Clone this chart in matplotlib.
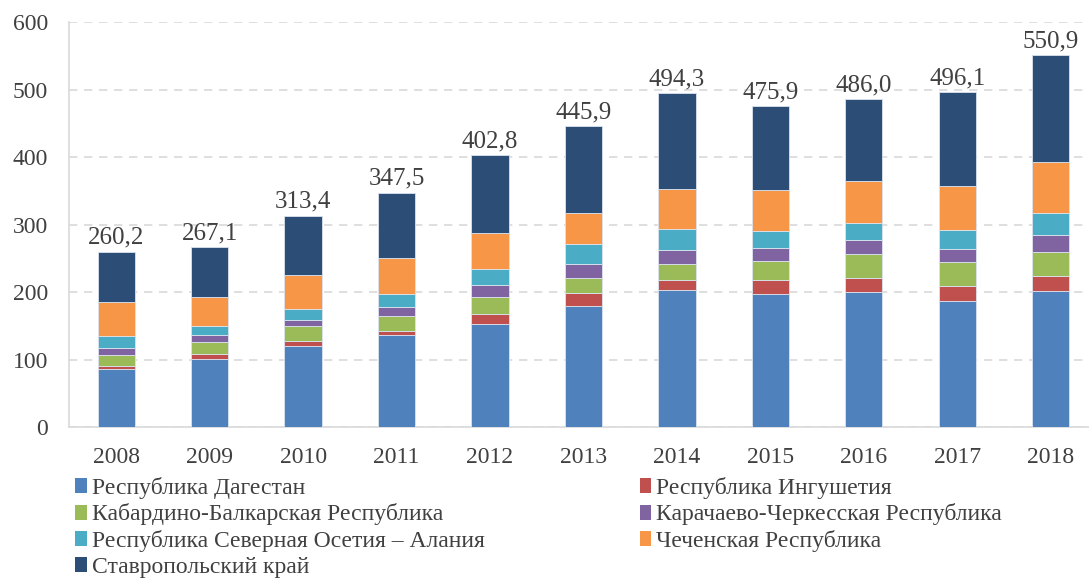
import matplotlib.pyplot as plt
from matplotlib.patches import Patch

plt.rcParams['font.family'] = ['Liberation Serif', 'DejaVu Serif']

# Data
years = ["2008", "2009", "2010", "2011", "2012", "2013", "2014", "2015", "2016", "2017", "2018"]
regions = ["Республика Дагестан", "Республика Ингушетия", "Кабардино-Балкарская Республика",
           "Карачаево-Черкесская Республика", "Республика Северная Осетия – Алания",
           "Чеченская Республика", "Ставропольский край"]
dagestan = [86.5, 101.8, 120.7, 137.0, 153.0, 179.3, 202.5, 197.6, 199.6, 187.2, 202.1]
ingush = [3.8, 6.4, 6.8, 5.9, 14.3, 19.2, 15.9, 20.5, 21.2, 21.6, 21.7]
kbr = [16.4, 18.4, 21.8, 21.3, 26.3, 21.9, 22.8, 28.6, 36.3, 35.3, 36.2]
kchr = [11.0, 10.0, 8.9, 13.8, 17.4, 21.2, 21.8, 18.7, 20.2, 20.4, 24.7]
osetia = [16.8, 14.0, 16.4, 19.9, 22.7, 29.3, 30.6, 25.2, 25.8, 27.6, 32.7]
chechnya = [50.9, 41.6, 50.5, 52.1, 54.6, 45.6, 58.6, 60.1, 61.4, 65.0, 75.8]
stavropol = [74.8, 74.9, 88.3, 97.5, 114.5, 129.4, 142.1, 125.2, 121.5, 139.0, 157.7]

series = [dagestan, ingush, kbr, kchr, osetia, chechnya, stavropol]
colors = ["#4F81BD", "#C0504D", "#9BBB59", "#8064A2", "#4BACC6", "#F79646", "#2C4D75"]

fig = plt.figure(figsize=(10.89, 5.8), dpi=100)
ax = fig.add_axes([0.0634, 0.2633, 0.9366, 0.6988])

x = range(len(years))
bottom = [0.0] * len(years)
for vals, col, name in zip(series, colors, regions):
    ax.bar(x, vals, width=0.4, bottom=bottom, color=col, edgecolor="#dbe3ee",
           linewidth=0.6, label=name, zorder=3)
    bottom = [b + v for b, v in zip(bottom, vals)]

# total labels
for i, tot in enumerate(bottom):
    ax.text(i, tot + 4, f"{tot:.1f}".replace(".", ","), ha="center", va="bottom",
            fontsize=18, color="#404040")

ax.set_xlim(-0.505, 10.41)
ax.set_ylim(0, 600)
ax.set_yticks(range(0, 601, 100))
ax.set_xticks(list(x))
ax.set_xticklabels(years)
ax.tick_params(axis="both", length=0, labelsize=17, colors="#404040")
ax.tick_params(axis="x", pad=14)
ax.tick_params(axis="y", pad=15)
ax.yaxis.grid(True, linestyle=(0, (5, 4)), color="#d9d9d9", linewidth=1.2, zorder=0)
for s in ["top", "right"]:
    ax.spines[s].set_visible(False)
for s in ["left", "bottom"]:
    ax.spines[s].set_color("#d9d9d9")
    ax.spines[s].set_linewidth(1.2)

# legend: two columns, filled column by column
order = [0, 2, 4, 6, 1, 3, 5]
handles = [Patch(facecolor=colors[k], label=regions[k]) for k in order]
fig.legend(handles=handles, ncol=2, loc="upper left", mode="expand",
           bbox_to_anchor=(0.069, 0.0, 0.851, 0.178), bbox_transform=fig.transFigure,
           frameon=False, fontsize=17, handlelength=0.5, handleheight=0.6,
           handletextpad=0.2, labelspacing=0.2, borderaxespad=0, borderpad=0,
           labelcolor="#404040")

fig.savefig("out.png", dpi=100)
